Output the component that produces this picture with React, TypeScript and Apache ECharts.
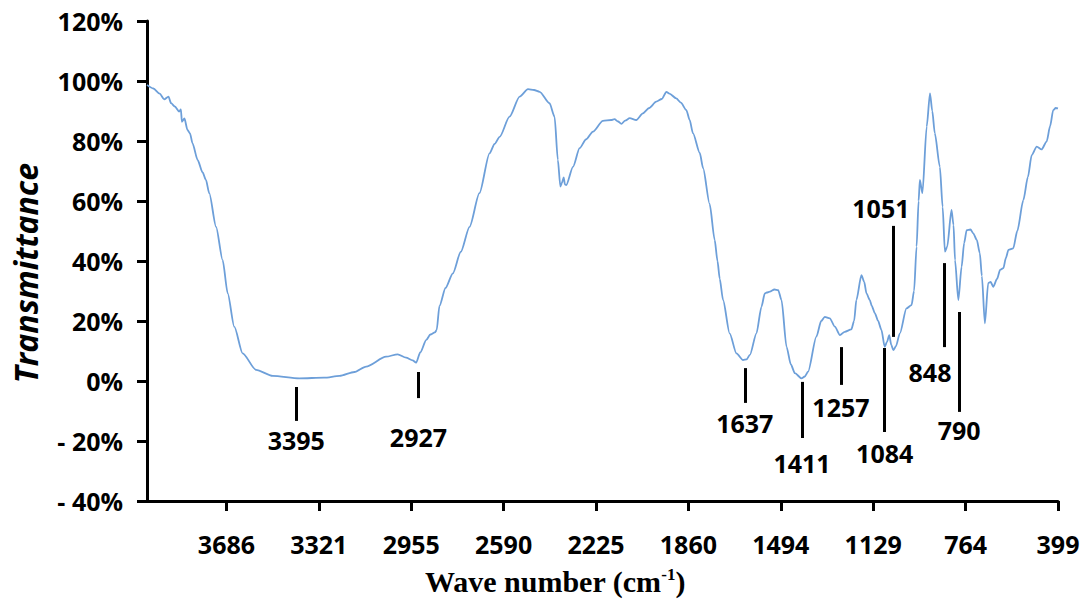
import React, { useEffect, useRef } from "react";
import * as echarts from "echarts";

// FT-IR spectrum (wavenumber cm-1, transmittance %)
const wavenumbers = [
  4000, 3975, 3950, 3932, 3915, 3905, 3890, 3873, 3866, 3862, 3852, 3840, 3830, 3820, 3800, 3780, 3767, 3754,
  3727, 3701, 3681, 3655, 3622, 3569, 3503, 3398, 3300, 3239, 3180, 3134, 3055, 3009, 2976, 2950, 2936, 2920,
  2896, 2880, 2862, 2855, 2844, 2820, 2791, 2760, 2725, 2686, 2646, 2626, 2606, 2567, 2527, 2494, 2470, 2448,
  2409, 2389, 2376, 2366, 2360, 2353, 2348, 2343, 2316, 2290, 2265, 2237, 2198, 2165, 2152, 2138, 2125, 2110,
  2092, 2066, 2040, 2015, 1987, 1965, 1947, 1935, 1908, 1890, 1868, 1855, 1842, 1815, 1802, 1776, 1756, 1745,
  1736, 1723, 1697, 1670, 1644, 1630, 1617, 1591, 1571, 1558, 1550, 1538, 1520, 1505, 1492, 1472, 1455, 1439,
  1413, 1400, 1387, 1354, 1335, 1321, 1301, 1281, 1261, 1242, 1216, 1205, 1196, 1176, 1165, 1156, 1143, 1135,
  1123, 1110, 1097, 1084, 1075, 1066, 1058, 1050, 1040, 1024, 998, 978, 968, 958, 950, 945, 935, 918, 905, 896,
  886, 866, 855, 846, 837, 820, 812, 806, 793, 780, 770, 760, 745, 734, 720, 708, 700, 688, 675, 665, 655, 640,
  628, 615, 605, 595, 576, 560, 536, 518, 503, 483, 464, 444, 430, 418, 408, 399,
];
const transmittance = [
  98.7, 97.5, 95.8, 93.9, 94.8, 92.6, 91.5, 89.8, 90.5, 86.4, 87.5, 83.7, 82.5, 79.2, 73.7, 69.5, 67, 62.6,
  51.4, 40.3, 29.2, 18.1, 9.2, 3.7, 1.7, 0.9, 1.1, 1.7, 3.0, 4.8, 8.1, 8.9, 7.8, 6.9, 6.1, 9.5,
  13.7, 15.5, 16.2, 17, 25, 31, 35.9, 43, 51.4, 62.6, 75.9, 79, 81.4, 88.1, 94.8, 97.3, 97.0, 96.4,
  92.6, 88.1, 73.7, 64.8, 66, 67.9, 65.5, 65.3, 71.4, 77.6, 80.5, 83.1, 86.7, 87, 87.3, 86.5, 85.7, 86.8,
  87.6, 87, 89.2, 91, 93.1, 94, 96.4, 95.8, 94.2, 92.8, 90.3, 87, 82.6, 76, 71, 59, 47, 40,
  34, 27, 15.9, 9.2, 7, 7.2, 8.7, 15.9, 24.8, 29.2, 29.5, 29.8, 30.5, 30.3, 27, 11.4, 5.5, 2.6,
  0.9, 1.5, 3.1, 14.8, 20, 21.4, 20.9, 18.1, 15.3, 16.4, 17.2, 20, 27, 35.3, 33, 29.2, 27, 25,
  22.6, 20, 17, 11.4, 13, 15.3, 12, 10.3, 11.5, 15.9, 24.2, 25.3, 30, 44.8, 60, 67, 62.6, 84.8, 95.9, 90,
  82.6, 71.4, 58, 43.1, 44.8, 57, 52, 40.3, 27, 38.1, 46, 50.3, 50.5, 49.2, 47, 42.6, 35, 19.2, 32.6, 33, 31.4, 34,
  37, 37.6, 41, 43.7, 44.2, 50, 60.3, 68, 75.3, 78.1, 77.2, 79.8, 85, 90.3, 91, 90.9,
];

// x-axis tick labels
const xTickLabels = [399, 764, 1129, 1494, 1860, 2225, 2590, 2955, 3321, 3686];

// peak annotations
const peakLabels = ["3395", "2927", "1637", "1411", "1257", "1084", "1051", "848", "790"];
const peakWn = [3410, 2927, 1637, 1411, 1257, 1084, 1051, 848, 790];
const peakLineTop = [-2, 3, 4.3, -0.3, 11.3, 11, 51.7, 39.3, 23];
const peakLineBottom = [-13.3, -5.7, -7.3, -19, -1.3, -17, 14.7, 11.3, -10.3];
const peakLabelWn = [3410, 2927, 1637, 1411, 1257, 1084, 1099, 905, 790];
const peakLabelY = [-19.7, -18.7, -14, -27.3, -8.7, -24, 57.7, 3, -16.3];

const LABEL_FONT = { fontFamily: "Open Sans", fontWeight: "bold" as const, fontSize: 25, color: "#000" };

export default function App() {
  const ref = useRef<HTMLDivElement>(null);
  useEffect(() => {
    if (!ref.current) return;
    const chart = echarts.init(ref.current, undefined, { renderer: "svg" });
    const xMin = 399;
    const xMax = 4000;
    const interval = (xTickLabels[xTickLabels.length - 1] - xTickLabels[0]) / (xTickLabels.length - 1);
    chart.setOption({
      animation: false,
      backgroundColor: "#fff",
      grid: { left: 147, right: 29, top: 21, bottom: 100, containLabel: false },
      xAxis: {
        type: "value",
        inverse: true,
        min: xMin,
        max: xMax,
        interval,
        axisLine: { show: true, onZero: false, lineStyle: { color: "#000", width: 3 } },
        axisTick: { show: true, length: 10, lineStyle: { color: "#000", width: 3 } },
        splitLine: { show: false },
        axisLabel: {
          ...LABEL_FONT,
          margin: 30,
          showMinLabel: true,
          showMaxLabel: false,
          formatter: (v: number) => {
            let best = "";
            for (const t of xTickLabels) if (Math.abs(t - v) < 5) best = String(t);
            return best;
          },
        },
      },
      yAxis: {
        type: "value",
        min: -40,
        max: 120,
        interval: 20,
        axisLine: { show: true, lineStyle: { color: "#000", width: 3 } },
        axisTick: { show: true, length: 10, lineStyle: { color: "#000", width: 3 } },
        splitLine: { show: false },
        axisLabel: {
          ...LABEL_FONT,
          margin: 24,
          formatter: (v: number) => {
            const r = Math.round(v);
            return r < 0 ? "- " + -r + "%" : r + "%";
          },
        },
      },
      graphic: [
        {
          type: "text",
          x: 25,
          y: 273,
          rotation: Math.PI / 2,
          style: {
            text: "Transmittance",
            fontFamily: "Open Sans",
            fontStyle: "italic",
            fontWeight: "bold",
            fontSize: 32,
            fill: "#000",
            align: "center",
            verticalAlign: "middle",
          },
        },
        {
          type: "text",
          x: 555,
          y: 581,
          style: {
            text: "{m|Wave number (cm}{s|-1}{m|)}",
            align: "center",
            verticalAlign: "middle",
            fill: "#000",
            rich: {
              m: {
                fontFamily: "Liberation Serif",
                fontWeight: "bold",
                fontSize: 30,
                fill: "#000",
                verticalAlign: "bottom",
              },
              s: {
                fontFamily: "Liberation Serif",
                fontWeight: "bold",
                fontSize: 17,
                fill: "#000",
                verticalAlign: "top",
              },
            },
          },
        },
      ],
      series: [
        {
          type: "line",
          name: "Transmittance",
          data: wavenumbers.map((w, i) => [w, transmittance[i]]),
          showSymbol: false,
          smooth: 0.25,
          smoothMonotone: "x",
          lineStyle: { color: "#6d9fd9", width: 1.8 },
          silent: true,
          markLine: {
            silent: true,
            symbol: ["none", "none"],
            label: { show: false },
            lineStyle: { color: "#000", width: 3, type: "solid" },
            data: peakWn.map((w, i) => [
              { coord: [w, peakLineTop[i]] },
              { coord: [w, peakLineBottom[i]] },
            ]),
          },
        },
        {
          type: "scatter",
          name: "peaks",
          silent: true,
          symbolSize: 1,
          itemStyle: { color: "rgba(0,0,0,0)" },
          data: peakLabels.map((t, i) => ({ value: [peakLabelWn[i], peakLabelY[i]], name: t })),
          label: {
            show: true,
            position: "inside",
            formatter: (p: any) => p.name,
            ...LABEL_FONT,
            textBorderWidth: 0,
            textBorderColor: "transparent",
            opacity: 1,
          },
        },
      ],
    });
    return () => chart.dispose();
  }, []);
  return (
    <div
      ref={ref}
      style={{ position: "fixed", left: 0, top: 0, width: 1087, height: 601, background: "#fff" }}
    />
  );
}
